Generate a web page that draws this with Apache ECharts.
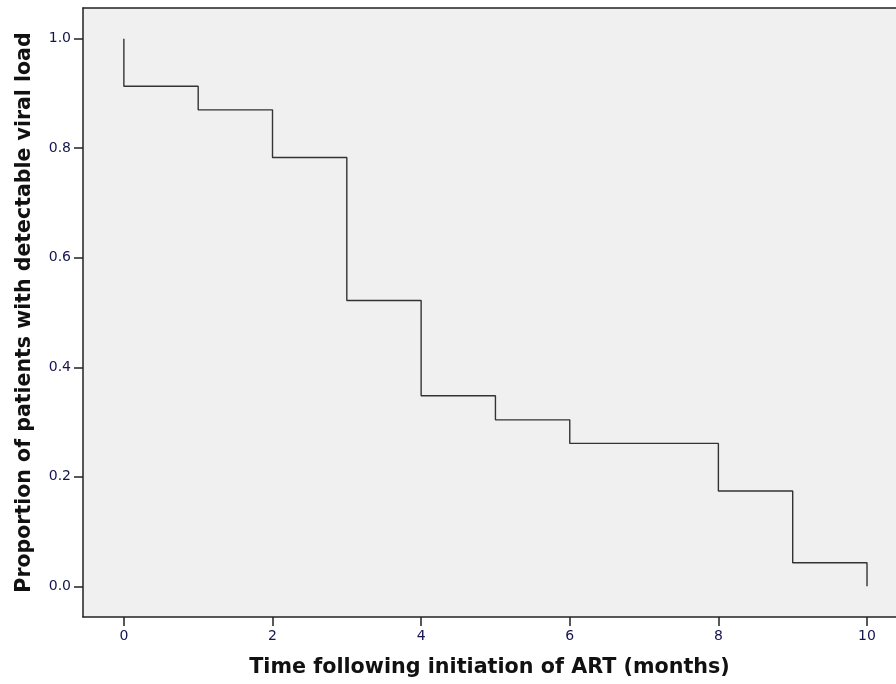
<!DOCTYPE html>
<html>
<head>
<meta charset="utf-8">
<script src="https://cdn.jsdelivr.net/npm/echarts@6/dist/echarts.min.js"></script>
<style>html,body{margin:0;padding:0;background:#fff}#c{width:896px;height:684px}</style>
</head>
<body>
<div id="c"></div>
<script>
// Kaplan-Meier style step data
var months = [0, 0, 1, 2, 3, 4, 5, 6, 8, 9, 10];
var proportion = [1.0, 0.913, 0.870, 0.783, 0.522, 0.348, 0.304, 0.261, 0.174, 0.043, 0.0];
var xTicks = [0, 2, 4, 6, 8, 10];
var yTicks = [0, 0.2, 0.4, 0.6, 0.8, 1.0];
var xTitle = 'Time following initiation of ART (months)';
var yTitle = 'Proportion of patients with detectable viral load';

var seriesData = months.map(function (m, i) { return [m, proportion[i]]; });

var chart = echarts.init(document.getElementById('c'));
var frameColor = '#222';
var labelColor = '#141450';
chart.setOption({
  animation: false,
  backgroundColor: '#fff',
  grid: {
    left: 83, right: 0, top: 8, bottom: 67,
    show: true, backgroundColor: '#f0f0f0', borderWidth: 0
  },
  xAxis: [{
    type: 'value', min: -0.55, max: 10.39,
    splitLine: { show: false },
    axisLine: { show: true, onZero: false, lineStyle: { color: frameColor, width: 1.5 } },
    axisTick: { show: true, customValues: xTicks, length: 9, lineStyle: { color: frameColor, width: 1.5 } },
    axisLabel: { customValues: xTicks, color: labelColor, fontSize: 14, fontFamily: 'DejaVu Sans', margin: 12 },
    name: xTitle, nameLocation: 'middle', nameGap: 40,
    nameTextStyle: { color: '#111', fontSize: 20.7, fontWeight: 'bold', fontFamily: 'DejaVu Sans' }
  }, {
    type: 'value', min: -0.55, max: 10.39, position: 'top',
    splitLine: { show: false },
    axisLine: { show: true, onZero: false, lineStyle: { color: frameColor, width: 1.5 } },
    axisTick: { show: false }, axisLabel: { show: false }
  }],
  yAxis: {
    type: 'value', min: -0.056, max: 1.056,
    splitLine: { show: false },
    axisLine: { show: true, onZero: false, lineStyle: { color: frameColor, width: 1.5 } },
    axisTick: { show: true, customValues: yTicks, length: 9, lineStyle: { color: frameColor, width: 1.5 } },
    axisLabel: { customValues: yTicks, color: labelColor, fontSize: 14, fontFamily: 'DejaVu Sans', margin: 12,
      formatter: function (v) { return v.toFixed(1); } },
    name: yTitle, nameLocation: 'middle', nameGap: 48, nameRotate: 90,
    nameTextStyle: { color: '#111', fontSize: 20.5, fontWeight: 'bold', fontFamily: 'DejaVu Sans' }
  },
  series: [{
    type: 'line', step: 'end', data: seriesData, xAxisIndex: 0,
    showSymbol: false, symbol: 'none',
    lineStyle: { color: '#333', width: 1.4 }
  }]
});
</script>
</body>
</html>
